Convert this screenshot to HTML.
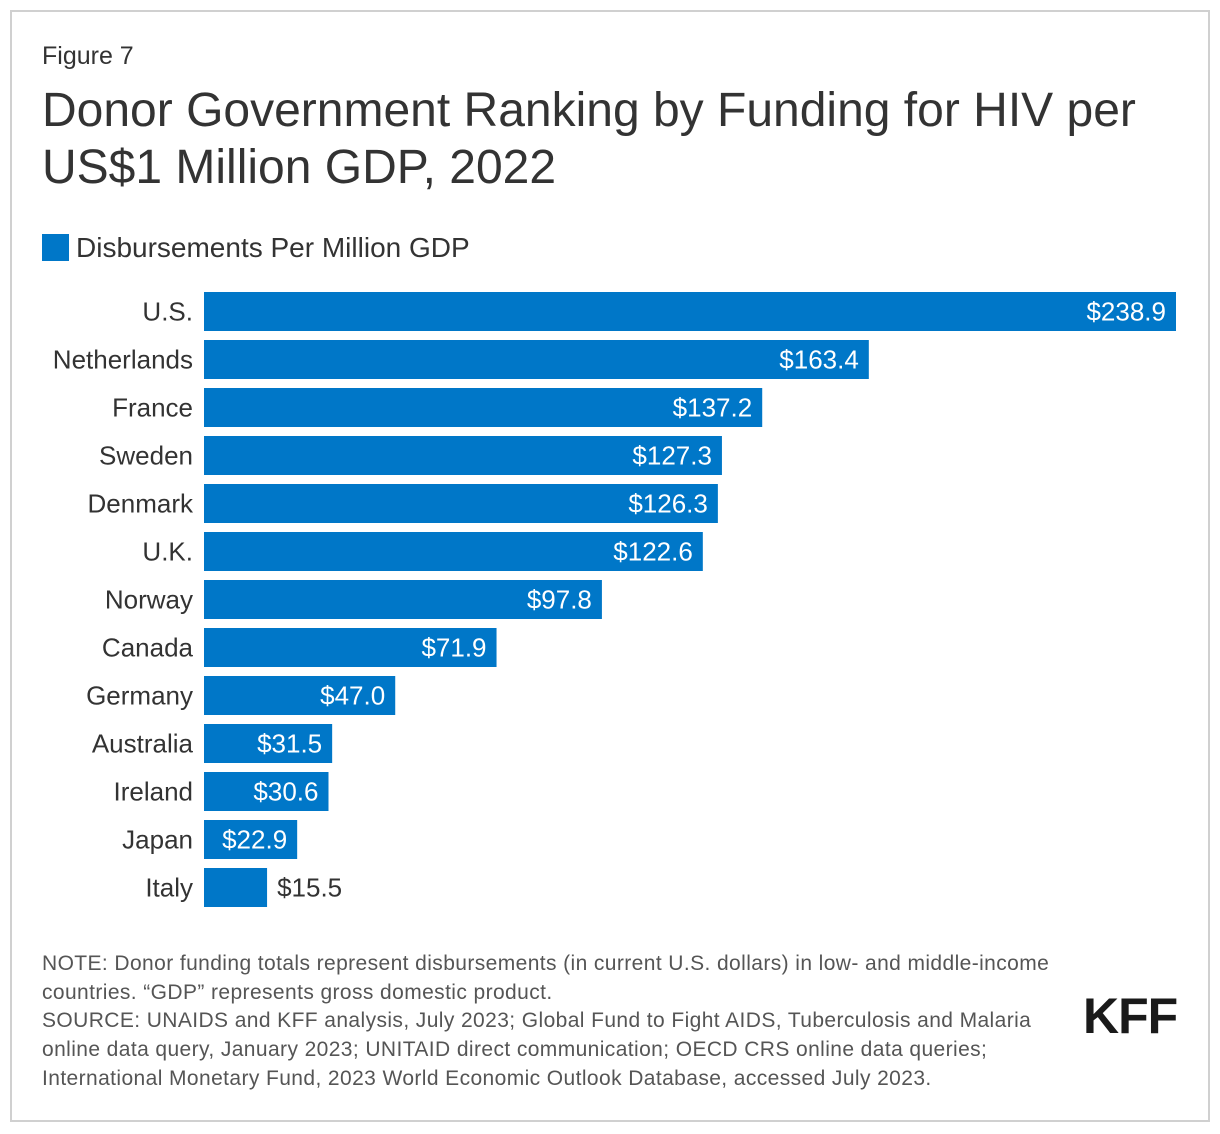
<!DOCTYPE html>
<html><head><meta charset="utf-8"><style>
html,body{margin:0;padding:0;background:#fff;}
body{width:1220px;height:1134px;position:relative;overflow:hidden;font-family:"Liberation Sans",Arial,sans-serif;}
.frame{position:absolute;left:10px;top:10px;width:1196px;height:1108px;border:2px solid #d0d0d0;}
.t{position:absolute;white-space:nowrap;}
</style></head><body>
<div class="frame"></div>
<div class="t" style="left:42px;top:42px;font-size:25px;color:#333;">Figure 7</div>
<div class="t" style="left:42px;top:82px;font-size:48px;line-height:57px;color:#333;">Donor Government Ranking by Funding for HIV per<br>US$1 Million GDP, 2022</div>
<div style="position:absolute;left:42px;top:234px;width:27px;height:27px;background:#0077c8;"></div>
<div class="t" style="left:76px;top:232px;font-size:28px;color:#333;">Disbursements Per Million GDP</div>
<svg id="chart" width="1220" height="1134" style="position:absolute;left:0;top:0;"></svg>
<div class="t" style="left:42px;top:950px;font-size:21px;letter-spacing:0.4px;line-height:28.7px;color:#555;">NOTE: Donor funding totals represent disbursements (in current U.S. dollars) in low- and middle-income<br>countries. “GDP” represents gross domestic product.<br>SOURCE: UNAIDS and KFF analysis, July 2023; Global Fund to Fight AIDS, Tuberculosis and Malaria<br>online data query, January 2023; UNITAID direct communication; OECD CRS online data queries;<br>International Monetary Fund, 2023 World Economic Outlook Database, accessed July 2023.</div>
<div class="t" style="left:1083px;top:987px;font-size:50px;font-weight:bold;color:#1a1a1a;letter-spacing:-1px;">KFF</div>
<script>
const categories=["U.S.","Netherlands","France","Sweden","Denmark","U.K.","Norway","Canada","Germany","Australia","Ireland","Japan","Italy"];
const values=[238.9,163.4,137.2,127.3,126.3,122.6,97.8,71.9,47.0,31.5,30.6,22.9,15.5];
const valueLabels=["$238.9","$163.4","$137.2","$127.3","$126.3","$122.6","$97.8","$71.9","$47.0","$31.5","$30.6","$22.9","$15.5"];
const svg=document.getElementById('chart');const NS="http://www.w3.org/2000/svg";
const x0=204,xMax=238.9,xW=972,y0=292,step=48,bh=39;
const xs=v=>x0+v/xMax*xW;
const ys=i=>y0+i*step;
categories.forEach((c,i)=>{
 const r=document.createElementNS(NS,'rect');
 r.setAttribute('x',x0);r.setAttribute('y',ys(i));r.setAttribute('width',xs(values[i])-x0);r.setAttribute('height',bh);r.setAttribute('fill','#0077c8');
 
 
 svg.appendChild(r);
 const t=document.createElementNS(NS,'text');
 t.setAttribute('x',193);t.setAttribute('y',ys(i)+bh/2+9);t.setAttribute('text-anchor','end');t.setAttribute('font-size','26');t.setAttribute('fill','#333');t.textContent=c;
 
 
 svg.appendChild(t);
 const w=xs(values[i])-x0;const inside=w>80;
 const v=document.createElementNS(NS,'text');
 v.setAttribute('x',inside?xs(values[i])-10:xs(values[i])+10);v.setAttribute('y',ys(i)+bh/2+9);
 v.setAttribute('text-anchor',inside?'end':'start');v.setAttribute('font-size','26');v.setAttribute('fill',inside?'#fff':'#333');v.textContent=valueLabels[i];
 
 
 svg.appendChild(v);
});
</script>
</body></html>
